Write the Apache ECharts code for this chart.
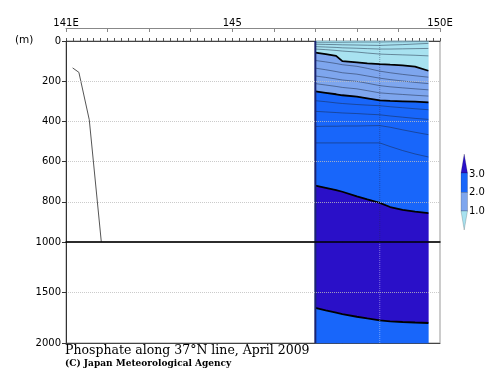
<!DOCTYPE html>
<html>
<head>
<meta charset="utf-8">
<script src="https://cdn.jsdelivr.net/npm/echarts@6/dist/echarts.min.js"></script>
<style>html,body{margin:0;padding:0;background:#fff}#c{width:500px;height:387px}</style>
</head>
<body>
<div id="c"></div>
<script>
// ---- data ----
var lons = [147.0, 147.25, 147.5, 147.65, 148.0, 148.25, 148.55, 148.8, 149.1, 149.4, 149.72];
// contour depths (m) at each longitude
var c02 = [6, 6, 6, 6, 5, 5, 5, 4, 4, 3, 3];
var c04 = [16, 17, 18, 19, 20, 21, 22, 20, 18, 15, 12];
var c06 = [28, 30, 32, 34, 36, 38, 40, 40, 39, 38, 37];
var c08 = [40, 43, 47, 50, 55, 60, 65, 67, 69, 71, 74];
var c10 = [58, 65, 74, 100, 106, 111, 115, 118, 121, 128, 148];
var c12 = [97, 104, 112, 118, 126, 136, 150, 158, 166, 173, 180];
var c14 = [135, 143, 152, 158, 165, 174, 185, 192, 199, 206, 212];
var c16 = [174, 181, 189, 194, 201, 210, 222, 228, 233, 238, 243];
var c18 = [212, 219, 226, 231, 238, 247, 258, 262, 266, 270, 274];
var c20 = [251, 258, 265, 270, 277, 285, 295, 298, 300, 302, 305];
var c22 = [297, 302, 308, 311, 316, 319, 322, 327, 332, 337, 342];
var c24 = [350, 353, 356, 358, 361, 364, 367, 373, 379, 385, 390];
var c26 = [425, 424, 424, 423, 423, 422, 421, 429, 442, 454, 466];
var c28 = [507, 507, 507, 507, 507, 507, 507, 525, 545, 562, 577];
var c30 = [720, 731, 742, 750, 773, 788, 805, 826, 840, 849, 856];
var c30deep = [1653, 1678, 1700, 1715, 1740, 1757, 1777, 1786, 1792, 1797, 1802];
// profile line near 141E
var profLon = [141.16, 141.31, 141.56, 141.85];
var profDepth = [134, 156, 392, 1000];
// axis labels
var topLabels = {141: '141E', 145: '145', 150: '150E'};
var barLabels = ['3.0', '2.0', '1.0'];

// ---- styles ----
var COL_LIGHT = '#a8e2f0', COL_MED = '#7ea6ee', COL_BLUE = '#1866fa', COL_DARK = '#2a10c8';
var FONT = 'DejaVu Sans';

function pairs(arr) { return lons.map(function (l, i) { return [l, arr[i]]; }); }
function val(b, i) { return typeof b === 'number' ? b : b[i]; }
function band(top, bot, color, gi, dummyY) {
  return {
    type: 'custom', xAxisIndex: gi === 0 ? 2 : 3, yAxisIndex: gi, z: 1, silent: true,
    data: [[148, dummyY]],
    renderItem: function (params, api) {
      var pts = [];
      for (var i = 0; i < lons.length; i++) pts.push(api.coord([lons[i], val(top, i)]));
      for (var j = lons.length - 1; j >= 0; j--) pts.push(api.coord([lons[j], val(bot, j)]));
      return { type: 'polygon', shape: { points: pts }, style: { fill: color, stroke: color, lineWidth: 0.5 } };
    }
  };
}
function contour(arr, thick, gi) {
  return {
    type: 'line', xAxisIndex: gi === 0 ? 2 : 3, yAxisIndex: gi, z: 3, silent: true,
    data: pairs(arr), showSymbol: false, symbol: 'none',
    lineStyle: thick ? { color: '#000', width: 1.8 } : { color: 'rgba(25,35,60,0.6)', width: 0.8 }
  };
}
function vline(lon, d0, d1, gi, style) {
  return {
    type: 'line', xAxisIndex: gi === 0 ? 2 : 3, yAxisIndex: gi, z: 4, silent: true,
    data: [[lon, d0], [lon, d1]], showSymbol: false, symbol: 'none', lineStyle: style
  };
}

var series = [
  band(0, c10, COL_LIGHT, 0, 500),
  band(c10, c20, COL_MED, 0, 500),
  band(c20, c30, COL_BLUE, 0, 500),
  band(c30, 1000, COL_DARK, 0, 500),
  band(1000, c30deep, COL_DARK, 1, 1500),
  band(c30deep, 2000, COL_BLUE, 1, 1500)
];
[c02, c04, c06, c08, c12, c14, c16, c18, c22, c24, c26, c28].forEach(function (a) { series.push(contour(a, false, 0)); });
[c10, c20, c30].forEach(function (a) { series.push(contour(a, true, 0)); });
series.push(contour(c30deep, true, 1));
series.push(vline(147.0, 0, 1000, 0, { color: '#1a2470', width: 2 }));
series.push(vline(147.0, 1000, 2000, 1, { color: '#1a2470', width: 2 }));
series.push(vline(148.55, 0, 1000, 0, { color: 'rgba(40,40,70,0.4)', width: 1, type: 'dotted' }));
series.push(vline(148.55, 1000, 2000, 1, { color: 'rgba(255,255,255,0.4)', width: 1, type: 'dotted' }));
series.push({
  type: 'line', xAxisIndex: 2, yAxisIndex: 0, z: 4, silent: true,
  data: profLon.map(function (l, i) { return [l, profDepth[i]]; }),
  showSymbol: false, symbol: 'none', lineStyle: { color: '#555', width: 1 }
});

var chart = echarts.init(document.getElementById('c'), null, { renderer: 'canvas' });
chart.setOption({
  animation: false,
  backgroundColor: '#fff',
  title: {
    text: 'Phosphate along 37°N line, April 2009',
    subtext: '(C) Japan Meteorological Agency',
    left: 65, top: 344, itemGap: 2, padding: 0,
    textStyle: { fontFamily: 'DejaVu Serif', fontSize: 12.5, fontWeight: 'normal', color: '#000' },
    subtextStyle: { fontFamily: 'DejaVu Serif', fontSize: 9, fontWeight: 'bold', color: '#000' }
  },
  grid: [
    { left: 66, right: 60, top: 41, height: 201, show: true, borderColor: '#999', borderWidth: 1 },
    { left: 66, right: 60, top: 242, height: 101, show: true, borderColor: '#999', borderWidth: 1 }
  ],
  xAxis: [
    { gridIndex: 0, type: 'value', min: 141, max: 150, interval: 1, position: 'top', offset: 13,
      axisLine: { onZero: false, lineStyle: { color: '#888', width: 1 } },
      axisTick: { inside: true, length: 4, lineStyle: { color: '#888' } },
      axisLabel: { margin: 0, fontFamily: FONT, fontSize: 10, color: '#000',
        formatter: function (v) { return topLabels[v] || ''; } },
      splitLine: { show: false } },
    { gridIndex: 0, type: 'value', min: 0, max: 54, interval: 1, position: 'top', offset: 0,
      axisLine: { onZero: false, lineStyle: { color: '#444', width: 1 } },
      axisTick: { inside: false, length: 3, lineStyle: { color: '#555' } },
      axisLabel: { show: false }, splitLine: { show: false } },
    { gridIndex: 0, type: 'value', min: 141, max: 150, position: 'bottom', z: 6,
      axisLine: { onZero: false, lineStyle: { color: '#000', width: 1.5 } },
      axisTick: { show: false }, axisLabel: { show: false }, splitLine: { show: false } },
    { gridIndex: 1, type: 'value', min: 141, max: 150, position: 'bottom',
      axisLine: { onZero: false, lineStyle: { color: '#444', width: 1 } },
      axisTick: { show: false }, axisLabel: { show: false }, splitLine: { show: false } }
  ],
  yAxis: [
    { gridIndex: 0, type: 'value', min: 0, max: 1000, interval: 200, inverse: true, z: 5,
      axisLine: { onZero: false, lineStyle: { color: '#333' } },
      axisTick: { length: 4, lineStyle: { color: '#333' } },
      axisLabel: { margin: 5, fontFamily: FONT, fontSize: 10, color: '#000',
        formatter: function (v) { return String(v); } },
      splitLine: { show: true, showMinLine: false, showMaxLine: false, lineStyle: { type: 'dotted', color: 'rgba(190,190,190,0.8)' } } },
    { gridIndex: 1, type: 'value', min: 1000, max: 2000, interval: 500, inverse: true, z: 5,
      axisLine: { onZero: false, lineStyle: { color: '#333' } },
      axisTick: { length: 4, lineStyle: { color: '#333' } },
      axisLabel: { margin: 5, fontFamily: FONT, fontSize: 10, color: '#000',
        formatter: function (v) { return v === 1000 ? '' : String(v); } },
      splitLine: { show: true, showMinLine: false, showMaxLine: false, lineStyle: { type: 'dotted', color: 'rgba(190,190,190,0.8)' } } }
  ],
  graphic: [
    { type: 'text', left: 15, top: 35, style: { text: '(m)', font: '10.5px "DejaVu Sans"', fill: '#000' } },
    { type: 'polygon', shape: { points: [[461, 173], [467.5, 173], [464.2, 154]] }, style: { fill: COL_DARK, stroke: 'rgba(0,0,0,0.35)', lineWidth: 0.5 } },
    { type: 'rect', shape: { x: 461, y: 173, width: 6.5, height: 19.5 }, style: { fill: COL_BLUE, stroke: 'rgba(0,0,0,0.35)', lineWidth: 0.5 } },
    { type: 'rect', shape: { x: 461, y: 192.5, width: 6.5, height: 18.5 }, style: { fill: COL_MED, stroke: 'rgba(0,0,0,0.35)', lineWidth: 0.5 } },
    { type: 'polygon', shape: { points: [[461, 211], [467.5, 211], [464.2, 230]] }, style: { fill: COL_LIGHT, stroke: 'rgba(0,0,0,0.35)', lineWidth: 0.5 } },
    { type: 'text', x: 469, y: 174, style: { text: barLabels[0], font: '10px "DejaVu Sans"', fill: '#000', verticalAlign: 'middle' } },
    { type: 'text', x: 469, y: 192.5, style: { text: barLabels[1], font: '10px "DejaVu Sans"', fill: '#000', verticalAlign: 'middle' } },
    { type: 'text', x: 469, y: 211, style: { text: barLabels[2], font: '10px "DejaVu Sans"', fill: '#000', verticalAlign: 'middle' } }
  ],
  series: series
});
</script>
</body>
</html>
